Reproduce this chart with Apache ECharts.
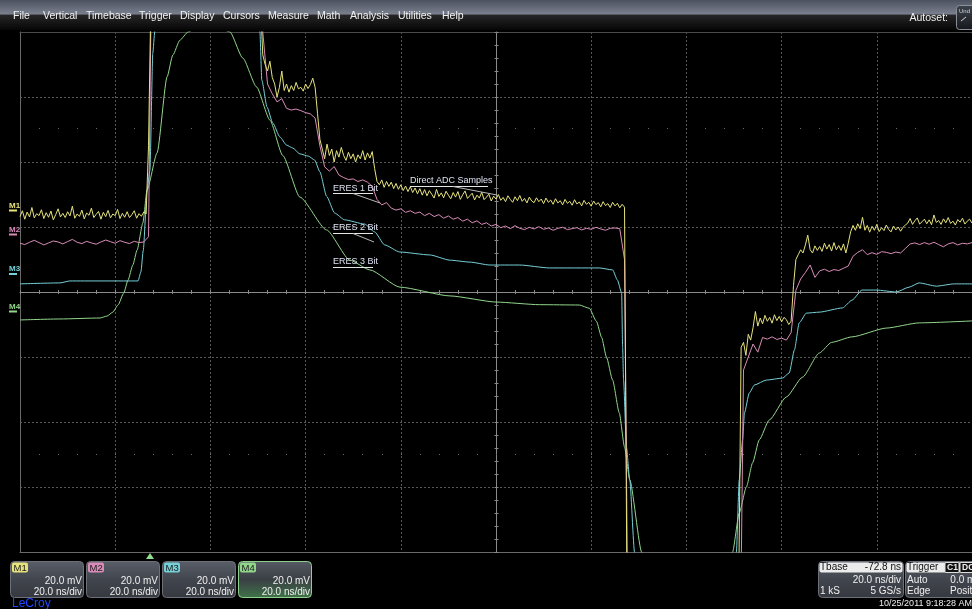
<!DOCTYPE html>
<html>
<head>
<meta charset="utf-8">
<title>ERES vs direct ADC samples</title>
<script src="https://cdn.jsdelivr.net/npm/echarts@6/dist/echarts.min.js"></script>
<style>
html, body { margin: 0; padding: 0; background: #000; }
#scope { width: 972px; height: 609px; }
</style>
</head>
<body>
<div id="scope"></div>
<script>
// ---- data (time in ns across the screen, amplitude in mV on screen) ----
var m1Step = 0.5;   // M1 direct ADC samples, one value every 0.5 ns
var m1Values = [
  23.2, 25.0, 22.4, 24.6, 23.1, 26.0, 22.8, 24.1, 23.5, 25.3,
  22.6, 24.4, 23.0, 24.9, 22.2, 23.8, 25.6, 23.1, 24.2, 22.9,
  24.7, 23.4, 26.4, 22.7, 24.0, 23.3, 25.2, 22.5, 24.3, 23.6,
  25.8, 22.9, 23.9, 24.8, 22.4, 24.5, 23.2, 25.1, 22.8, 24.0,
  23.5, 25.4, 22.6, 24.2, 23.0, 24.7, 22.9, 23.8, 25.0, 22.7,
  24.1, 23.3, 24.6, 24.0, 45,
  90, 90, 90, 90, 90, 90, 90, 90, 90, 90,
  90, 90, 90, 90, 90, 90, 90, 90, 90, 90,
  90, 90, 90, 90, 90, 90, 90, 90, 90, 90,
  90, 90, 90, 90, 90, 90, 90, 90, 90, 90,
  90, 90, 90, 90, 90, 90, 90,
  73, 70, 68, 71, 66, 64, 60, 63, 68, 62,
  64, 61.5, 63.5, 62, 64.5, 62.5, 63, 61.8, 64, 62.6,
  63.8, 65.8, 63,
  55, 47, 44, 41, 45.5, 42, 44, 40, 43.5, 41.5,
  44.5, 42, 40.5, 43, 41, 42.5, 40, 42.2, 41, 43.5,
  40.6, 42.8, 41.2, 43.2,
  38, 34, 33, 34.5, 32.2, 34, 32.5, 33.8, 31.8, 33.4,
  31.6, 33, 31.2, 32.6, 30.9, 32.4, 30.6, 32, 30.2, 31.8,
  29.8, 31.5,
  29.6, 31.2, 30.1, 28.9, 31.6, 29.4, 30.5, 29.0, 31.0, 29.8,
  28.7, 30.6, 29.2, 30.9, 28.5, 29.9, 31.1, 28.8, 29.6, 30.4,
  28.3, 29.8, 28.9, 30.7, 28.4, 29.2, 30.1, 28.0, 29.5, 28.6,
  30.0, 28.2, 29.1, 27.8, 29.6, 28.5, 27.6, 29.3, 28.1, 29.7,
  27.9, 28.8, 27.4, 29.2, 28.0, 27.5, 29.0, 27.8, 28.6, 27.2,
  28.9, 27.6, 28.3, 27.0, 28.7, 27.4, 28.1, 26.8, 28.5, 27.3,
  27.9, 26.7, 28.4, 27.1, 27.7, 26.5, 28.2, 27.0, 27.6, 26.4,
  28.0, 26.9, 27.5, 26.2, 27.8, 26.6, 27.2, 26.0, 27.6, 26.5,
  27.3, 25.9, 27.0, 26.1,
  -90, -90, -90, -90, -90, -90, -90, -90, -90, -90,
  -90, -90, -90, -90, -90, -90, -90, -90, -90, -90,
  -90, -90, -90, -90, -90, -90, -90, -90, -90, -90,
  -90, -90, -90, -90, -90, -90, -90, -90, -90, -90,
  -90, -90, -90, -90, -90, -90, -90, -90,
  -17, -15.5, -19.5, -13, -14.8, -11, -6, -10.5, -8, -9.8,
  -7.2, -9, -7.8, -9.6, -7, -8.8, -7.5, -9.2, -7.8, -8.5,
  -10, -9,
  2, 10, 11.5, 13, 12, 14.5, 17.5, 13, 12, 14.2,
  12.8, 14, 12.5, 15, 13.2, 14.6, 12.6, 15.2, 13, 14.3,
  12.8, 14.8, 12, 15,
  18.5, 20.5, 19, 21, 19.5, 23, 19, 20.5, 18.4, 20.2,
  19.0, 20.8, 18.6, 19.8, 18.9, 20.6, 19.2, 18.5, 20.3, 19.1,
  20.0, 18.7, 19.9, 20.6,
  21.2, 22.6, 20.8, 21.9, 22.8, 20.9, 21.6, 22.4, 21.0, 22.2,
  20.7, 23.7, 21.4, 22.0, 20.8, 22.5, 21.3, 22.9, 21.1, 21.8,
  20.6, 22.3, 21.5, 22.7, 20.9, 21.8, 22.4, 21.2
];

var m2Step = 1;     // M2 ERES 1 bit, one value every ns
var m2Values = [
  15.0, 14.6, 15.3, 15.9, 15.2, 14.5, 15.1, 15.7, 15.4, 14.8,
  15.5, 16.2, 15.3, 14.9, 15.6, 15.1, 14.7, 15.4, 16.0, 15.5,
  15.0, 15.8, 15.3, 14.9, 15.6, 15.2, 15.4, 17,
  150, 150, 150, 150, 150, 150, 150, 150, 150, 150,
  150, 150, 150, 150, 150, 150, 150, 150, 150, 150,
  150, 150, 150, 80,
  64, 61, 58.5, 59.5, 56.5, 56, 56.3, 55.8, 55.2, 54.8,
  53.5, 45, 38.5, 37.2, 38.6, 36, 35.2, 34.6, 34.8, 34,
  34.5, 33.8, 32.5, 28.5, 26.8, 27.5, 25.8, 25.2, 25.6, 24.5,
  25, 24.2, 24.6, 23.5, 24.2, 23.2, 23.8, 22.7, 23.4, 22.4,
  22.9, 21.8, 22.4, 21.3, 21.9, 20.8, 21.3, 20.3, 20.8, 19.8,
  20.3, 19.5, 20.4, 19.6,
  19.2, 19.9, 19.4, 20.1, 19.3, 19.7, 19.0, 19.6, 19.9, 19.2,
  19.5, 19.8, 19.1, 19.6, 19.3, 19.9, 19.4, 19.0, 19.6, 19.7,
  19.5, 10,
  -150, -150, -150, -150, -150, -150, -150, -150, -150, -150,
  -150, -150, -150, -150, -150, -150, -150, -150, -150, -150,
  -150, -150, -150, -150,
  -24, -20, -16, -18.5, -14, -14.5, -13.8, -14.6, -14.2, -14.8,
  -12.5, 0.5, 4, 6, 8.3, 4.5, 6.5, 7, 6.3, 6.9,
  6.6, 7.3, 8, 11, 12.2, 13, 11.5, 12.1, 11.6, 12.4,
  12.2, 11.8, 12.3, 12, 13.4, 14.8, 15.1, 14.6, 15.2, 14.7,
  15.3, 14.6, 13.9, 14.8, 15.2, 14.5, 15, 14.8, 15.2
];

// M3 ERES 2 bit, [ns, mV]
var m3Points = [
  [0, 2.5], [8.4, 2.8], [10.5, 3.4], [24.8, 3.4], [25.4, 6.2], [25.9, 12.9],
  [26.7, 31.4], [27.3, 37.5], [27.9, 73.5], [28.3, 80], [28.6, 100],
  [50.1, 100], [50.4, 80], [50.8, 65.2], [51.9, 56.9], [53.1, 52], [54.6, 47.7],
  [56, 45.2], [57.3, 44.3], [58.8, 42.5], [60.6, 41.8], [61.9, 40.6], [63, 37],
  [64.4, 29.5], [66.1, 24.3], [68.2, 22.2], [72.4, 20.9], [74.5, 18.5], [76.6, 14.5],
  [79.8, 12.3], [86.1, 11.4], [90.3, 9.8], [94.5, 9.2], [98.7, 8.3], [105, 8.3],
  [111.2, 7.4], [121.7, 7.4], [124.5, 6.8], [125.5, 3.7], [126.4, -0.3],
  [126.6, -16.9], [126.8, -27.1], [127.4, -47.7], [128.1, -57.8], [129.1, -80], [129.5, -100],
  [149.8, -100], [150.5, -80], [151.1, -57.8], [151.8, -45.5], [152.2, -37.2],
  [153.2, -31.1], [154.3, -28.6], [156.8, -27.1], [160.2, -26.5], [161.6, -24.9],
  [162.7, -17.8], [163.7, -9.5], [165.2, -6.5], [167.9, -6.2], [172.8, -4.9],
  [174.8, -2.5], [176.9, 0.6], [179.9, 0.6], [184.1, 0], [186.8, 1.5], [188.9, 2.8],
  [192.5, 1.8], [196.3, 2.5], [200, 2.5]
];

// M4 ERES 3 bit, [ns, mV]
var m4Points = [
  [0, -8.6], [8.4, -8.3], [16.8, -8], [18.3, -7.4], [19.5, -6.2], [20.6, -4],
  [21.8, -0.3], [22.7, 3.7], [23.7, 8.3], [24.6, 12.9], [25.8, 21.2], [26.7, 31.4],
  [28.8, 42.8], [30.9, 66.2], [32.1, 72.9], [33.6, 77.5], [35.3, 80], [39.5, 84],
  [44.1, 80], [46.8, 72], [49.7, 63.1], [52.5, 52.9], [55.2, 42], [58.8, 29.2],
  [64.4, 19.1], [69.3, 9.8], [73.5, 6.8], [79.8, 1.5], [90.3, -1.2], [100.1, -3.1],
  [109.1, -3.9], [117.5, -4], [119.6, -5], [121.1, -9], [122.2, -14], [123.2, -20],
  [124.5, -27.1], [125.9, -37.2], [127, -47.7], [128.1, -57.8], [130.6, -80], [131, -88],
  [149.3, -88], [149.7, -80], [151.1, -68], [152.6, -60], [153.9, -52.6], [155.3, -45.5],
  [157.4, -39.4], [161, -32.3], [164.4, -26.2], [167.9, -18.8], [170.5, -15.5],
  [174.8, -13.8], [182, -11.1], [188.9, -9.5], [200, -8.9]
];

var traceNames = ['M1', 'M2', 'M3', 'M4'];
var traceColors = ['#e6e27c', '#d98cb8', '#76d0d8', '#92d68c'];
var vScales = ['20.0 mV', '20.0 mV', '20.0 mV', '20.0 mV'];
var hScales = ['20.0 ns/div', '20.0 ns/div', '20.0 ns/div', '20.0 ns/div'];
var menuItems = ['File', 'Vertical', 'Timebase', 'Trigger', 'Display', 'Cursors', 'Measure', 'Math', 'Analysis', 'Utilities', 'Help'];
var notes = ['Direct ADC Samples', 'ERES 1 Bit', 'ERES 2 Bit', 'ERES 3 Bit'];

// ---- layout (pixels) ----
var FONT = 'Liberation Sans, Arial, sans-serif';
var menuX = [13, 43, 86, 139, 180, 223, 268, 317, 350, 398, 442];
var markerY = [205.5, 229.5, 269, 306.5];
var boxX = [10, 86, 162, 238];

function txt(x, y, s, fill, font, align) {
    return {
        type: 'text', x: x, y: y, silent: true, z: 20,
        style: {
            text: s, fill: fill, font: font,
            textAlign: align || 'left', align: align || 'left',
            textVerticalAlign: 'middle', verticalAlign: 'middle'
        }
    };
}
function line(x1, y1, x2, y2, color, w) {
    return {
        type: 'line', silent: true, z: 20,
        shape: { x1: x1, y1: y1, x2: x2, y2: y2 },
        style: { stroke: color, lineWidth: w || 1 }
    };
}
function box(x, y, w, h, fill, stroke, r) {
    return {
        type: 'rect', silent: true, z: 15,
        shape: { x: x, y: y, width: w, height: h, r: r || 0 },
        style: { fill: fill, stroke: stroke || null, lineWidth: 1 }
    };
}
function vgrad(stops) {
    return {
        type: 'linear', x: 0, y: 0, x2: 0, y2: 1,
        colorStops: stops.map(function (c, i) { return { offset: c[0], color: c[1] }; })
    };
}

var graphics = [];

// menu bar
graphics.push(box(0, 0, 972, 30, vgrad([[0, '#4c5260'], [0.47, '#7a808e'], [0.5, '#262628'], [1, '#060606']])));
menuItems.forEach(function (m, i) {
    graphics.push(txt(menuX[i], 16.5, m, '#f2f2f2', '10.5px ' + FONT));
});
graphics.push(txt(948, 18, 'Autoset:', '#f2f2f2', '10.5px ' + FONT, 'right'));
graphics.push(box(956.5, 5.5, 22, 24, vgrad([[0, '#3e434c'], [1, '#16181c']]), '#8a909a', 3));
graphics.push(txt(959, 11, 'Und', '#d0d4dc', '6px ' + FONT));
graphics.push(line(961, 21, 966, 17, '#d0d4dc'));

// trace offset markers on the left edge
traceNames.forEach(function (n, i) {
    graphics.push(txt(9, markerY[i], n, traceColors[i], 'bold 8px ' + FONT));
    graphics.push(line(9, markerY[i] + 5, 17, markerY[i] + 5, traceColors[i], 2));
});

// annotations
graphics.push(txt(410, 180.5, notes[0], '#dfe2f2', '9px ' + FONT));
graphics.push(line(410, 186.5, 488, 186.5, '#e6e6e6'));
graphics.push(line(453, 186.5, 497, 195, '#b8b8b8'));
graphics.push(txt(333, 188.5, notes[1], '#dfe2f2', '9px ' + FONT));
graphics.push(line(333, 193.5, 373, 193.5, '#e6e6e6'));
graphics.push(line(353, 193.5, 380, 203, '#b8b8b8'));
graphics.push(txt(333, 228, notes[2], '#dfe2f2', '9px ' + FONT));
graphics.push(line(333, 233.5, 373, 233.5, '#e6e6e6'));
graphics.push(line(353, 233.5, 374, 242, '#b8b8b8'));
graphics.push(txt(333, 262, notes[3], '#dfe2f2', '9px ' + FONT));
graphics.push(line(333, 267.5, 373, 267.5, '#e6e6e6'));

// trigger position marker
graphics.push({
    type: 'polygon', silent: true, z: 20,
    shape: { points: [[146, 559], [154, 559], [150, 553]] },
    style: { fill: '#8ee08e' }
});

// channel descriptor boxes
traceNames.forEach(function (n, i) {
    var x = boxX[i];
    var active = i === 3;
    var fill = active
        ? vgrad([[0, '#565b64'], [0.5, '#3a3f44'], [1, '#3f7449']])
        : vgrad([[0, '#5a5e68'], [0.5, '#41454d'], [1, '#35383f']]);
    graphics.push(box(x + 0.5, 561.5, 73, 36, fill, active ? '#8fd08f' : '#6c707a', 4));
    graphics.push(box(x + 2, 562.5, 16, 10, traceColors[i], null, 2));
    graphics.push(txt(x + 3.5, 568, n, '#1a1a1a', '9.5px ' + FONT));
    graphics.push(txt(x + 72, 581, vScales[i], '#f0f0f0', '10px ' + FONT, 'right'));
    graphics.push(txt(x + 72, 592, hScales[i], '#f0f0f0', '10px ' + FONT, 'right'));
});

// timebase box
graphics.push(box(818.5, 561.5, 85, 36, vgrad([[0, '#5a5e68'], [0.5, '#41454d'], [1, '#35383f']]), '#6c707a', 4));
graphics.push(box(819.5, 562.5, 83, 10, '#ececec', null, 2));
graphics.push(txt(820, 567.5, 'Tbase', '#111', '10px ' + FONT));
graphics.push(txt(901, 567.5, '-72.8 ns', '#111', '10px ' + FONT, 'right'));
graphics.push(txt(901, 580, '20.0 ns/div', '#f0f0f0', '10px ' + FONT, 'right'));
graphics.push(txt(820, 591.5, '1 kS', '#f0f0f0', '10px ' + FONT));
graphics.push(txt(901, 591.5, '5 GS/s', '#f0f0f0', '10px ' + FONT, 'right'));

// trigger box
graphics.push(box(905.5, 561.5, 80, 36, vgrad([[0, '#5a5e68'], [0.5, '#41454d'], [1, '#35383f']]), '#6c707a', 4));
graphics.push(box(906.5, 562.5, 78, 10, '#ececec', null, 2));
graphics.push(txt(907, 567.5, 'Trigger', '#111', '10px ' + FONT));
graphics.push(box(945, 562.5, 14, 10, '#111', '#ddd', 1));
graphics.push(txt(947, 567.5, 'C1', '#f0f0f0', 'bold 8.5px ' + FONT));
graphics.push(box(960, 562.5, 14, 10, '#111', '#ddd', 1));
graphics.push(txt(962, 567.5, 'DC', '#f0f0f0', 'bold 8.5px ' + FONT));
graphics.push(txt(907, 580, 'Auto', '#f0f0f0', '10px ' + FONT));
graphics.push(txt(982, 580, '0.0 mV', '#f0f0f0', '10px ' + FONT, 'right'));
graphics.push(txt(907, 591.5, 'Edge', '#f0f0f0', '10px ' + FONT));
graphics.push(txt(985, 591.5, 'Positive', '#f0f0f0', '10px ' + FONT, 'right'));

// footer
graphics.push(txt(12, 604, 'LeCroy', '#2346ff', '12px ' + FONT));
graphics.push(txt(972, 604, '10/25/2011 9:18:28 AM', '#f0f0f0', '9px ' + FONT, 'right'));

// ---- chart ----
var gridDots = { color: '#575757', type: [2, 2], width: 1 };
var axisGrey = '#8a8a8a';

function hidden(extra) {
    var a = {
        type: 'value', axisLabel: { show: false }, splitLine: { show: false },
        axisTick: { show: false }, axisLine: { show: false, onZero: false }
    };
    for (var k in extra) a[k] = extra[k];
    return a;
}
function centerTicks(inside) {
    return {
        axisTick: { show: true, length: 2, inside: inside, lineStyle: { color: axisGrey } },
        minorTick: { show: true, splitNumber: 5, length: 2, lineStyle: { color: axisGrey } }
    };
}
var xRange = { min: 0, max: 200, interval: 20 };
var yRange = { min: -80, max: 80, interval: 20 };

function extend(a, b, c) {
    var o = {};
    [a, b, c].forEach(function (s) { if (s) for (var k in s) o[k] = s[k]; });
    return o;
}

var option = {
    backgroundColor: '#000',
    animation: false,
    grid: { left: 20, top: 32, width: 953, height: 520, containLabel: false },
    xAxis: [
        hidden(extend(xRange, {
            position: 'bottom',
            axisLine: { show: true, onZero: false, lineStyle: { color: '#6a6a6a' } },
            splitLine: { show: true, lineStyle: gridDots }
        })),
        hidden(extend(xRange, {
            position: 'top',
            axisLine: { show: true, onZero: false, lineStyle: { color: '#4a4a4a' } }
        })),
        hidden(extend(xRange, {
            position: 'bottom',
            axisLine: { show: true, onZero: true, onZeroAxisIndex: 0, lineStyle: { color: axisGrey } }
        }, centerTicks(false))),
        hidden(extend(xRange, {
            position: 'bottom',
            axisLine: { show: false, onZero: true, onZeroAxisIndex: 0 }
        }, centerTicks(true))),
        hidden(extend(xRange, {
            position: 'top', offset: -97,
            axisTick: { show: true, length: 1, lineStyle: { color: '#6a6a6a' } },
            minorTick: { show: true, splitNumber: 5, length: 1, lineStyle: { color: '#6a6a6a' } }
        })),
        hidden(extend(xRange, {
            position: 'bottom', offset: -98,
            axisTick: { show: true, length: 1, lineStyle: { color: '#6a6a6a' } },
            minorTick: { show: true, splitNumber: 5, length: 1, lineStyle: { color: '#6a6a6a' } }
        }))
    ],
    yAxis: [
        hidden(extend(yRange, {
            position: 'left',
            axisLine: { show: true, onZero: false, lineStyle: { color: '#6a6a6a' } },
            splitLine: { show: true, lineStyle: gridDots }
        })),
        hidden(extend(yRange, {
            position: 'left', offset: -476.5,
            axisLine: { show: true, onZero: false, lineStyle: { color: axisGrey } }
        }, centerTicks(false))),
        hidden(extend(yRange, {
            position: 'left', offset: -476.5
        }, centerTicks(true)))
    ],
    graphic: { elements: graphics },
    series: [
        {
            name: 'M4', type: 'line', data: m4Points, smooth: 0.2, smoothMonotone: 'x',
            showSymbol: false, symbol: 'none', clip: true, silent: true,
            lineStyle: { color: traceColors[3], width: 1 }, z: 3
        },
        {
            name: 'M3', type: 'line', data: m3Points, smooth: 0.2, smoothMonotone: 'x',
            showSymbol: false, symbol: 'none', clip: true, silent: true,
            lineStyle: { color: traceColors[2], width: 1 }, z: 4
        },
        {
            name: 'M2', type: 'line',
            data: m2Values.map(function (v, i) { return [i * m2Step, v]; }),
            showSymbol: false, symbol: 'none', clip: true, silent: true,
            lineStyle: { color: traceColors[1], width: 1 }, z: 5
        },
        {
            name: 'M1', type: 'line',
            data: m1Values.map(function (v, i) { return [i * m1Step, v]; }),
            showSymbol: false, symbol: 'none', clip: true, silent: true,
            lineStyle: { color: traceColors[0], width: 1 }, z: 6
        }
    ]
};

var scope = echarts.init(document.getElementById('scope'));
scope.setOption(option);
</script>
</body>
</html>
